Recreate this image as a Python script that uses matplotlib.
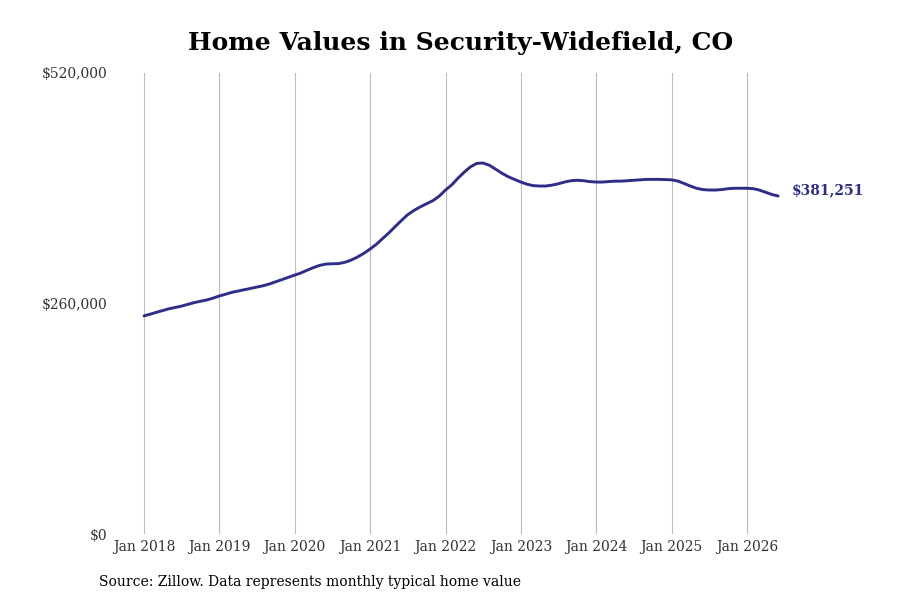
import numpy as np
import pandas as pd
import matplotlib
matplotlib.use('Agg')
import matplotlib.pyplot as plt
import matplotlib.dates as mdates

# monthly typical home value, Jan 2018 .. Jun 2026 (in $1000)
values_2018 = [246, 248, 250, 252, 254, 255.5, 257, 259, 261, 262.5, 264, 266]
values_2019 = [268.5, 270.5, 272.5, 274, 275.5, 277, 278.5, 280, 282, 284.5, 287, 289.5]
values_2020 = [292, 294.5, 297.5, 300.5, 303, 304.5, 304.8, 305, 306.5, 309, 312.5, 316.5]
values_2021 = [321.5, 327, 333, 339.5, 346.5, 353.5, 360, 365, 369, 372.5, 376, 381]
values_2022 = [388, 394, 401, 408, 414, 418, 418.5, 416, 411.5, 407, 403, 400]
values_2023 = [397, 394.5, 393, 392.5, 392.5, 393.5, 395, 397, 398.5, 399, 398.5, 397.5]
values_2024 = [397, 397, 397.5, 398, 398, 398.5, 399, 399.5, 400, 400, 400, 399.8]
values_2025 = [399.5, 398, 395.5, 392.5, 390, 388.5, 388, 388, 388.5, 389.5, 390, 390]
values_2026 = [390, 389.5, 388, 385.5, 383, 381.251]

values = np.array(values_2018 + values_2019 + values_2020 + values_2021 + values_2022
                  + values_2023 + values_2024 + values_2025 + values_2026) * 1000
dates = pd.date_range('2018-01-01', periods=len(values), freq='MS')

title = 'Home Values in Security-Widefield, CO'
source = 'Source: Zillow. Data represents monthly typical home value'
yticks = [0, 260000, 520000]
xtick_years = list(range(2018, 2027))

line_color = '#2e2e8a'
plt.rcParams['font.family'] = ['DejaVu Serif']

fig = plt.figure(figsize=(9, 6), dpi=100)
ax = fig.add_axes([115 / 900, 1 - 534 / 600, 750 / 900, (534 - 73) / 600])

ax.plot(dates, values, color=line_color, linewidth=2.1, solid_capstyle='round')

# x range: pixel 115..865 with Jan 2018 at 144 and 75.4 px per year
x0 = mdates.date2num(pd.Timestamp('2018-01-01'))
x1 = mdates.date2num(pd.Timestamp('2026-01-01'))
px_per_day = (747 - 144) / (x1 - x0)
ax.set_xlim(x0 - (144 - 115) / px_per_day, x0 + (865 - 144) / px_per_day)
ax.set_ylim(0, 520000)

ax.set_xticks([pd.Timestamp(f'{y}-01-01') for y in xtick_years])
ax.set_xticklabels([f'Jan {y}' for y in xtick_years])
ax.set_yticks(yticks)
ax.set_yticklabels([f'${v:,.0f}' for v in yticks])
ax.tick_params(axis='both', length=0, labelsize=10, labelcolor='#333333')
ax.tick_params(axis='y', pad=5.5)
ax.tick_params(axis='x', pad=4)

ax.grid(True, axis='x', color='#bbbbbb', linewidth=0.8)
ax.grid(False, axis='y')
for s in ax.spines.values():
    s.set_visible(False)

ax.annotate(f'${values[-1]:,.0f}', xy=(dates[-1], values[-1]), xytext=(10, 4),
            textcoords='offset points', ha='left', va='center',
            color=line_color, fontsize=10, fontweight='bold')

fig.text(0.512, 1 - 43 / 600, title, ha='center', va='center',
         fontsize=18, fontweight='bold')
fig.text(99 / 900, 1 - 582 / 600, source, ha='left', va='center', fontsize=10)

fig.savefig('out.png', dpi=100)
